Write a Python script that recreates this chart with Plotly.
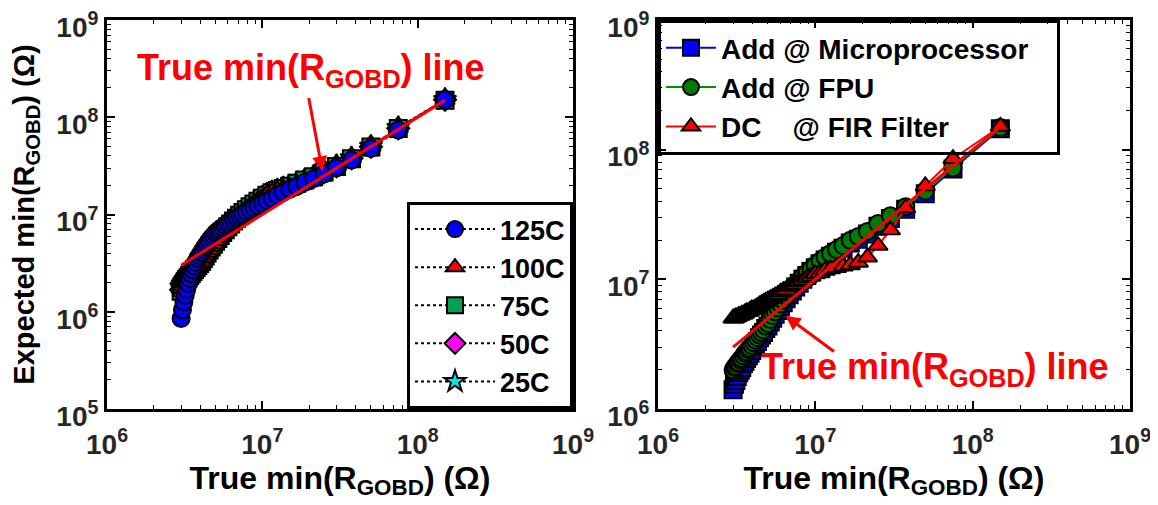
import plotly.graph_objects as go

# ---------------- data ----------------
true_min = [3.0e6, 3.061e6, 3.125e6, 3.191e6, 3.261e6, 3.333e6, 3.409e6, 3.488e6, 3.571e6, 3.659e6,
            3.75e6, 3.846e6, 3.947e6, 4.054e6, 4.167e6, 4.286e6, 4.412e6, 4.545e6, 4.688e6, 4.839e6,
            5.0e6, 5.172e6, 5.357e6, 5.556e6, 5.769e6, 6.0e6, 6.25e6, 6.522e6, 6.818e6, 7.143e6,
            7.5e6, 7.895e6, 8.333e6, 8.824e6, 9.375e6, 1.0e7, 1.071e7, 1.154e7, 1.25e7, 1.364e7,
            1.5e7, 1.667e7, 1.875e7, 2.143e7, 2.5e7, 3.0e7, 3.75e7, 5.0e7, 7.5e7, 1.5e8]

exp_125C = [8.51e5, 1.05e6, 1.26e6, 1.48e6, 1.70e6, 1.95e6, 2.19e6, 2.46e6, 2.69e6, 2.95e6,
            3.24e6, 3.55e6, 3.80e6, 4.07e6, 4.37e6, 4.68e6, 5.01e6, 5.37e6, 5.75e6, 6.03e6,
            6.46e6, 6.76e6, 7.08e6, 7.41e6, 7.76e6, 8.13e6, 8.51e6, 8.91e6, 9.33e6, 9.77e6,
            1.02e7, 1.07e7, 1.12e7, 1.17e7, 1.23e7, 1.29e7, 1.38e7, 1.48e7, 1.58e7, 1.70e7,
            1.82e7, 1.95e7, 2.14e7, 2.34e7, 2.63e7, 3.02e7, 3.63e7, 4.79e7, 7.41e7, 1.51e8]
exp_100C = [1.74e6, 1.86e6, 2.00e6, 2.09e6, 2.19e6, 2.29e6, 2.40e6, 2.51e6, 2.63e6, 2.75e6,
            2.88e6, 3.02e6, 3.16e6, 3.31e6, 3.55e6, 3.80e6, 4.07e6, 4.37e6, 4.68e6, 5.01e6,
            5.37e6, 5.75e6, 6.17e6, 6.61e6, 7.08e6, 7.59e6, 8.13e6, 8.71e6, 9.33e6, 1.00e7,
            1.07e7, 1.15e7, 1.23e7, 1.32e7, 1.41e7, 1.51e7, 1.62e7, 1.70e7, 1.78e7, 1.86e7,
            1.95e7, 2.09e7, 2.24e7, 2.45e7, 2.75e7, 3.16e7, 3.80e7, 5.01e7, 7.76e7, 1.51e8]
exp_75C = [1.62e6, 1.78e6, 1.91e6, 2.04e6, 2.14e6, 2.24e6, 2.36e6, 2.48e6, 2.60e6, 2.72e6,
           2.85e6, 2.99e6, 3.13e6, 3.29e6, 3.50e6, 3.75e6, 4.02e6, 4.31e6, 4.62e6, 4.95e6,
           5.30e6, 5.68e6, 6.09e6, 6.52e6, 6.98e6, 7.47e6, 8.00e6, 8.57e6, 9.17e6, 9.82e6,
           1.05e7, 1.12e7, 1.20e7, 1.28e7, 1.37e7, 1.47e7, 1.58e7, 1.67e7, 1.76e7, 1.85e7,
           1.95e7, 2.10e7, 2.26e7, 2.45e7, 2.73e7, 3.12e7, 3.75e7, 4.95e7, 7.65e7, 1.50e8]
exp_50C = [1.68e6, 1.84e6, 1.96e6, 2.07e6, 2.17e6, 2.27e6, 2.38e6, 2.50e6, 2.62e6, 2.74e6,
           2.87e6, 3.01e6, 3.15e6, 3.30e6, 3.52e6, 3.78e6, 4.05e6, 4.34e6, 4.65e6, 4.98e6,
           5.34e6, 5.72e6, 6.13e6, 6.57e6, 7.03e6, 7.53e6, 8.06e6, 8.64e6, 9.25e6, 9.91e6,
           1.06e7, 1.14e7, 1.22e7, 1.30e7, 1.39e7, 1.49e7, 1.60e7, 1.69e7, 1.77e7, 1.86e7,
           1.95e7, 2.10e7, 2.25e7, 2.45e7, 2.74e7, 3.14e7, 3.78e7, 4.98e7, 7.70e7, 1.51e8]
exp_25C = [1.80e6, 1.92e6, 2.03e6, 2.13e6, 2.23e6, 2.33e6, 2.43e6, 2.54e6, 2.66e6, 2.78e6,
           2.91e6, 3.05e6, 3.19e6, 3.34e6, 3.57e6, 3.83e6, 4.10e6, 4.40e6, 4.71e6, 5.05e6,
           5.41e6, 5.80e6, 6.21e6, 6.66e6, 7.13e6, 7.64e6, 8.18e6, 8.77e6, 9.40e6, 1.01e7,
           1.08e7, 1.16e7, 1.24e7, 1.32e7, 1.41e7, 1.51e7, 1.62e7, 1.71e7, 1.79e7, 1.87e7,
           1.96e7, 2.11e7, 2.27e7, 2.47e7, 2.76e7, 3.17e7, 3.82e7, 5.02e7, 7.80e7, 1.52e8]

exp_micro = [1.41e6, 1.55e6, 1.66e6, 1.78e6, 1.91e6, 2.00e6, 2.09e6, 2.24e6, 2.34e6, 2.45e6,
             2.57e6, 2.69e6, 2.82e6, 3.02e6, 3.16e6, 3.31e6, 3.55e6, 3.72e6, 3.89e6, 4.17e6,
             4.37e6, 4.68e6, 5.01e6, 5.37e6, 5.75e6, 6.17e6, 6.61e6, 7.08e6, 7.59e6, 8.13e6,
             8.71e6, 9.33e6, 1.00e7, 1.07e7, 1.15e7, 1.23e7, 1.32e7, 1.41e7, 1.51e7, 1.62e7,
             1.74e7, 1.91e7, 2.04e7, 2.24e7, 2.57e7, 2.95e7, 3.47e7, 4.57e7, 7.08e7, 1.45e8]
exp_fpu = [2.00e6, 2.09e6, 2.14e6, 2.24e6, 2.29e6, 2.40e6, 2.45e6, 2.57e6, 2.69e6, 2.75e6,
           2.88e6, 2.95e6, 3.09e6, 3.24e6, 3.39e6, 3.55e6, 3.72e6, 3.89e6, 4.07e6, 4.37e6,
           4.57e6, 4.90e6, 5.25e6, 5.62e6, 6.03e6, 6.46e6, 6.92e6, 7.41e6, 7.94e6, 8.51e6,
           9.12e6, 9.77e6, 1.05e7, 1.12e7, 1.20e7, 1.29e7, 1.38e7, 1.48e7, 1.58e7, 1.70e7,
           1.82e7, 2.00e7, 2.14e7, 2.34e7, 2.69e7, 3.09e7, 3.63e7, 4.79e7, 7.24e7, 1.48e8]
exp_fir = [5.01e6, 5.01e6, 5.13e6, 5.13e6, 5.25e6, 5.25e6, 5.37e6, 5.37e6, 5.50e6, 5.62e6,
           5.62e6, 5.75e6, 5.89e6, 5.89e6, 6.03e6, 6.17e6, 6.31e6, 6.46e6, 6.61e6, 6.76e6,
           6.92e6, 7.08e6, 7.24e6, 7.41e6, 7.59e6, 7.94e6, 8.13e6, 8.32e6, 8.71e6, 8.91e6,
           9.12e6, 9.55e6, 9.77e6, 1.02e7, 1.05e7, 1.10e7, 1.12e7, 1.17e7, 1.20e7, 1.23e7,
           1.26e7, 1.29e7, 1.35e7, 1.48e7, 1.82e7, 2.40e7, 3.55e7, 5.25e7, 8.51e7, 1.51e8]

ideal_line = [3.0e6, 1.5e8]

x_tick_vals = [1e6, 1e7, 1e8, 1e9]
x_tick_labels = ["<b>10<sup>6</sup></b>", "<b>10<sup>7</sup></b>", "<b>10<sup>8</sup></b>", "<b>10<sup>9</sup></b>"]
left_y_tick_vals = [1e5, 1e6, 1e7, 1e8, 1e9]
left_y_tick_labels = ["<b>10<sup>5</sup></b>", "<b>10<sup>6</sup></b>", "<b>10<sup>7</sup></b>",
                      "<b>10<sup>8</sup></b>", "<b>10<sup>9</sup></b>"]
right_y_tick_vals = [1e6, 1e7, 1e8, 1e9]
right_y_tick_labels = ["<b>10<sup>6</sup></b>", "<b>10<sup>7</sup></b>", "<b>10<sup>8</sup></b>",
                       "<b>10<sup>9</sup></b>"]


def minor_vals(lo, hi):
    out = []
    for e in range(lo, hi):
        for m in range(2, 10):
            out.append(m * 10 ** e)
    return out


FONT = "Liberation Sans, Arial, sans-serif"

fig = go.Figure()

# ---------------- left panel ----------------
left_series = [
    ("25C", exp_25C, "star", "#00e5ee", 5),
    ("50C", exp_50C, "diamond", "#ff00ff", 4),
    ("75C", exp_75C, "square", "#00a050", 3),
    ("100C", exp_100C, "triangle-up", "#ff0000", 2),
    ("125C", exp_125C, "circle", "#0000ff", 1),
]
for name, ys, sym, col, rank in left_series:
    fig.add_trace(go.Scatter(
        x=true_min, y=ys, name=name, mode="lines+markers",
        line=dict(color="black", width=2, dash="dot"),
        marker=dict(symbol=sym, size=17, color=col, line=dict(color="black", width=2)),
        xaxis="x", yaxis="y", legend="legend", legendrank=rank))

fig.add_trace(go.Scatter(x=ideal_line, y=ideal_line, mode="lines",
                         line=dict(color="#ff0000", width=3), showlegend=False,
                         xaxis="x", yaxis="y"))

# ---------------- right panel ----------------
right_series = [
    ("Add @ Microprocessor\u00a0\u00a0\u00a0", exp_micro, "square", "#0000ff", "#0000ff", 1),
    ("Add @ FPU", exp_fpu, "circle", "#007a00", "#009000", 2),
    ("DC\u00a0\u00a0\u00a0\u00a0@ FIR Filter", exp_fir, "triangle-up", "#ff0000", "#ff0000", 3),
]
for name, ys, sym, col, lcol, rank in right_series:
    fig.add_trace(go.Scatter(
        x=true_min, y=ys, name=name, mode="lines+markers",
        line=dict(color=lcol, width=2),
        marker=dict(symbol=sym, size=17, color=col, line=dict(color="black", width=2)),
        xaxis="x2", yaxis="y2", legend="legend2", legendrank=rank))

fig.add_trace(go.Scatter(x=ideal_line, y=ideal_line, mode="lines",
                         line=dict(color="#ff0000", width=3), showlegend=False,
                         xaxis="x2", yaxis="y2"))

# ---------------- layout (page body has an 8px margin) ----------------
OFF = 8
FW, FH = 1150, 497


def px(X):
    return (X - OFF) / FW


def py(Y):
    return 1 - (Y - OFF) / FH


axis_common = dict(
    type="log", showline=True, linewidth=3, linecolor="black", mirror="allticks",
    ticks="inside", ticklen=8, tickwidth=2, tickcolor="black", showgrid=False, zeroline=False,
    automargin=False, ticklabeloverflow="allow",
    tickfont=dict(family=FONT, size=28, color="#262626"),
)
minor_style = dict(ticks="inside", ticklen=4, tickwidth=1, tickcolor="black", tickmode="array")
xtitle = "<b>True min(R<sub>GOBD</sub>) (Ω)</b>"

fig.update_layout(
    width=FW, height=FH, margin=dict(l=0, r=0, t=0, b=0, autoexpand=False),
    paper_bgcolor="white", plot_bgcolor="white",
    font=dict(family=FONT, color="black"),
    xaxis=dict(axis_common, domain=[px(107), px(573)], range=[6, 9], anchor="y",
               tickmode="array", tickvals=x_tick_vals, ticktext=x_tick_labels,
               ticklabelstandoff=8,
               minor=dict(minor_style, tickvals=minor_vals(6, 9)),
               title=dict(text=xtitle, font=dict(family=FONT, size=32, color="black"), standoff=3)),
    yaxis=dict(axis_common, domain=[py(409), py(20)], range=[5, 9], anchor="x",
               tickmode="array", tickvals=left_y_tick_vals, ticktext=left_y_tick_labels,
               ticklabelstandoff=0, ticklabelshift=7,
               minor=dict(minor_style, tickvals=minor_vals(5, 9)),
               title=dict(text="<b>Expected min(R<sub>GOBD</sub>) (Ω)</b>",
                          font=dict(family=FONT, size=29, color="black"), standoff=15)),
    xaxis2=dict(axis_common, domain=[px(658), px(1130)], range=[6, 9], anchor="y2",
                tickmode="array", tickvals=x_tick_vals, ticktext=x_tick_labels,
                ticklabelstandoff=8,
                minor=dict(minor_style, tickvals=minor_vals(6, 9)),
                title=dict(text=xtitle, font=dict(family=FONT, size=32, color="black"), standoff=3)),
    yaxis2=dict(axis_common, domain=[py(409), py(20)], range=[6, 9], anchor="x2",
                tickmode="array", tickvals=right_y_tick_vals, ticktext=right_y_tick_labels,
                ticklabelstandoff=0, ticklabelshift=7,
                minor=dict(minor_style, tickvals=minor_vals(6, 9))),
    legend=dict(x=px(573), xanchor="right", y=py(409), yanchor="bottom",
                bgcolor="white", bordercolor="black", borderwidth=3,
                font=dict(family=FONT, size=27, color="black", weight="bold"), tracegroupgap=0,
                itemwidth=80),
    legend2=dict(x=px(658), xanchor="left", y=py(20), yanchor="top",
                 bgcolor="rgba(255,255,255,0)", bordercolor="black", borderwidth=3,
                 font=dict(family=FONT, size=28, color="black", weight="bold"), tracegroupgap=0,
                 itemwidth=50),
)

# ---------------- annotations ----------------
ann_text = "<b>True min(R<sub>GOBD</sub>) line</b>"
fig.add_annotation(text=ann_text, xref="paper", yref="paper", x=px(311), y=py(70),
                   xanchor="center", yanchor="middle",
                   showarrow=False, font=dict(family=FONT, size=36, color="#ff0000"))
fig.add_annotation(text="", xref="x", yref="y", x=7.387, y=7.443,
                   ax=-14, ay=-75, axref="pixel", ayref="pixel",
                   showarrow=True, arrowhead=2, arrowsize=1, arrowwidth=3, arrowcolor="#ff0000")
fig.add_annotation(text=ann_text, xref="paper", yref="paper", x=px(935), y=py(369),
                   xanchor="center", yanchor="middle",
                   showarrow=False, font=dict(family=FONT, size=36, color="#ff0000"))
fig.add_annotation(text="", xref="x2", yref="y2", x=6.81, y=6.72,
                   ax=50, ay=37, axref="pixel", ayref="pixel",
                   showarrow=True, arrowhead=2, arrowsize=1, arrowwidth=3, arrowcolor="#ff0000")

fig.write_html("out.html")
